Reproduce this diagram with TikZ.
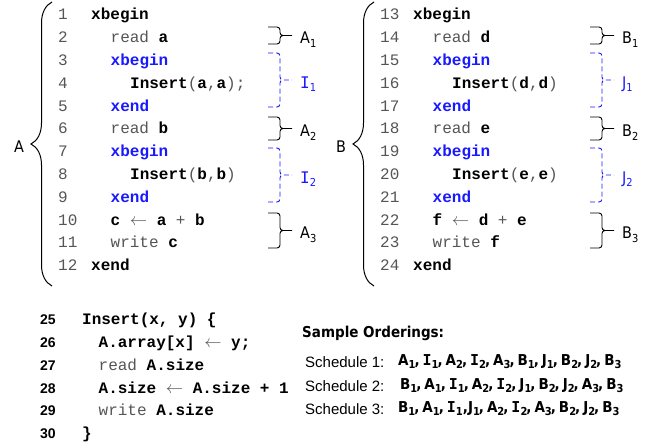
\documentclass[tikz,border=0pt]{standalone}
\usepackage{fontspec}
\setmonofont{Liberation Mono}
\newfontfamily\lblfont{DejaVu Sans Condensed}
\newfontfamily\schfont{Liberation Sans}
\newfontfamily\serI{DejaVu Sans Mono}
\usetikzlibrary{decorations.pathreplacing}

\definecolor{txblue}{RGB}{25,25,255}
\definecolor{plain}{RGB}{85,85,85}

\newcommand\kw[1]{\textbf{\color{black}#1}}
\newcommand\tx[1]{\textbf{\color{txblue}#1}}
\newcommand\larr{\ensuremath{\leftarrow}}
\newcommand\lno[1]{\makebox[33pt][l]{#1}}
\newcommand\bno[1]{\makebox[42pt][l]{\schfont\bfseries\fontsize{14}{14}\selectfont\color{black}#1}}
\newcommand\inone{\hspace*{19.5pt}}
\newcommand\intwo{\hspace*{39pt}}
\newcommand\ix[1]{\raisebox{-0.35ex}{\fontsize{11}{11}\selectfont#1}}
\newcommand\II{{\serI I}}
\newcommand\nx{\hspace{-1pt},\hspace{3pt}}

% right brace with its label: style, x, top, bottom, name, label
\newcommand\codebrace[6]{%
  \draw[#1] (#2,#3) -- ({#2+12},#3) -- ({#2+12},{(#3+#4)/2}) -- ({#2+24},{(#3+#4)/2})
            (#2,#4) -- ({#2+12},#4) -- ({#2+12},{(#3+#4)/2}) -- ({#2+24},{(#3+#4)/2});
  \node[lbl] (#5) at ({#2+32},{(#3+#4)/2+3}) {#6};
}

\begin{document}
\begin{tikzpicture}[x=1pt,y=-1pt,
  code/.style={anchor=west, inner sep=0pt, text height=12pt, text depth=2pt,
    text=plain, font=\ttfamily\fontsize{16}{16}\selectfont},
  lbl/.style={anchor=west, inner sep=0pt, text height=11pt, text depth=0pt,
    font=\lblfont\fontsize{16}{16}\selectfont},
  sched/.style={anchor=west, inner sep=0pt, font=\schfont\fontsize{15}{15}\selectfont},
  items/.style={anchor=west, inner sep=0pt, font=\lblfont\bfseries\fontsize{15}{15}\selectfont},
  brc/.style={line width=0.9pt, rounded corners=3pt},
  xbrc/.style={brc, draw=txblue, dash pattern=on 5pt off 3pt},
  bigbrc/.style={line width=1pt, decorate, decoration={brace, amplitude=21pt}}]

\useasboundingbox (0,0) rectangle (651,446);

% thread A
\node[code] (a1)  at (58,15)    {\lno{1}\kw{xbegin}};
\node[code] (a2)  at (58,37.8)  {\lno{2}\inone read \kw{a}};
\node[code] (a3)  at (58,60.6)  {\lno{3}\inone\tx{xbegin}};
\node[code] (a4)  at (58,83.4)  {\lno{4}\intwo\kw{Insert}(\kw{a},\kw{a});};
\node[code] (a5)  at (58,106.2) {\lno{5}\inone\tx{xend}};
\node[code] (a6)  at (58,129)   {\lno{6}\inone read \kw{b}};
\node[code] (a7)  at (58,151.8) {\lno{7}\inone\tx{xbegin}};
\node[code] (a8)  at (58,174.6) {\lno{8}\intwo\kw{Insert}(\kw{b},\kw{b})};
\node[code] (a9)  at (58,197.4) {\lno{9}\inone\tx{xend}};
\node[code] (a10) at (58,220.2) {\lno{10}\inone\kw{c} \larr{} \kw{a} + \kw{b}};
\node[code] (a11) at (58,243)   {\lno{11}\inone write \kw{c}};
\node[code] (a12) at (58,265.8) {\lno{12}\kw{xend}};

\draw[bigbrc] (52,286) -- (52,2);
\node[lbl, anchor=center] (A) at (19,147) {A};

\codebrace{brc}{268}{27}{44}{a1b}{A\ix{1}}
\codebrace{xbrc}{268}{53}{107}{i1b}{\color{txblue}\II\ix{1}}
\codebrace{brc}{268}{117}{140}{a2b}{A\ix{2}}
\codebrace{xbrc}{268}{148}{202}{i2b}{\color{txblue}\II\ix{2}}
\codebrace{brc}{268}{213}{248}{a3b}{A\ix{3}}

% thread B
\node[code] (b13) at (380,15)    {\lno{13}\kw{xbegin}};
\node[code] (b14) at (380,37.8)  {\lno{14}\inone read \kw{d}};
\node[code] (b15) at (380,60.6)  {\lno{15}\inone\tx{xbegin}};
\node[code] (b16) at (380,83.4)  {\lno{16}\intwo\kw{Insert}(\kw{d},\kw{d})};
\node[code] (b17) at (380,106.2) {\lno{17}\inone\tx{xend}};
\node[code] (b18) at (380,129)   {\lno{18}\inone read \kw{e}};
\node[code] (b19) at (380,151.8) {\lno{19}\inone\tx{xbegin}};
\node[code] (b20) at (380,174.6) {\lno{20}\intwo\kw{Insert}(\kw{e},\kw{e})};
\node[code] (b21) at (380,197.4) {\lno{21}\inone\tx{xend}};
\node[code] (b22) at (380,220.2) {\lno{22}\inone\kw{f} \larr{} \kw{d} + \kw{e}};
\node[code] (b23) at (380,243)   {\lno{23}\inone write \kw{f}};
\node[code] (b24) at (380,265.8) {\lno{24}\kw{xend}};

\draw[bigbrc] (374,286) -- (374,2);
\node[lbl, anchor=center] (B) at (341,147) {B};

\codebrace{brc}{590}{27}{44}{b1b}{B\ix{1}}
\codebrace{xbrc}{590}{53}{107}{j1b}{\color{txblue}J\ix{1}}
\codebrace{brc}{590}{117}{140}{b2b}{B\ix{2}}
\codebrace{xbrc}{590}{148}{202}{j2b}{\color{txblue}J\ix{2}}
\codebrace{brc}{590}{213}{248}{b3b}{B\ix{3}}

% the Insert routine
\node[code] (c25) at (40,320)   {\bno{25}\kw{Insert(x, y) \{}};
\node[code] (c26) at (40,342.7) {\bno{26}\hspace*{16.5pt}\kw{A.array[x]} \larr{} \kw{y;}};
\node[code] (c27) at (40,365.4) {\bno{27}\hspace*{16.5pt}read \kw{A.size}};
\node[code] (c28) at (40,388.1) {\bno{28}\hspace*{16.5pt}\kw{A.size} \larr{} \kw{A.size + 1}};
\node[code] (c29) at (40,410.8) {\bno{29}\hspace*{16.5pt}write \kw{A.size}};
\node[code] (c30) at (40,433.5) {\bno{30}\kw{\}}};

% orderings
\node[items] (head) at (302,333) {Sample Orderings:};
\node[sched] (s1) at (305,362) {Schedule 1:};
\node[sched] (s2) at (305,386) {Schedule 2:};
\node[sched] (s3) at (305,409) {Schedule 3:};
\node[items] (o1) at (398,362) {A\ix1\nx\II\ix1\nx A\ix2\nx\II\ix2\nx A\ix3\nx B\ix1\nx J\ix1\nx B\ix2\nx J\ix2\nx B\ix3};
\node[items] (o2) at (400,386) {B\ix1\nx A\ix1\nx\II\ix1\nx A\ix2\nx\II\ix2\nx J\ix1\nx B\ix2\nx J\ix2\nx A\ix3\nx B\ix3};
\node[items] (o3) at (398,409) {B\ix1\nx A\ix1\nx\II\ix1,J\ix1\nx A\ix2\nx\II\ix2\nx A\ix3\nx B\ix2\nx J\ix2\nx B\ix3};
\end{tikzpicture}
\end{document}
